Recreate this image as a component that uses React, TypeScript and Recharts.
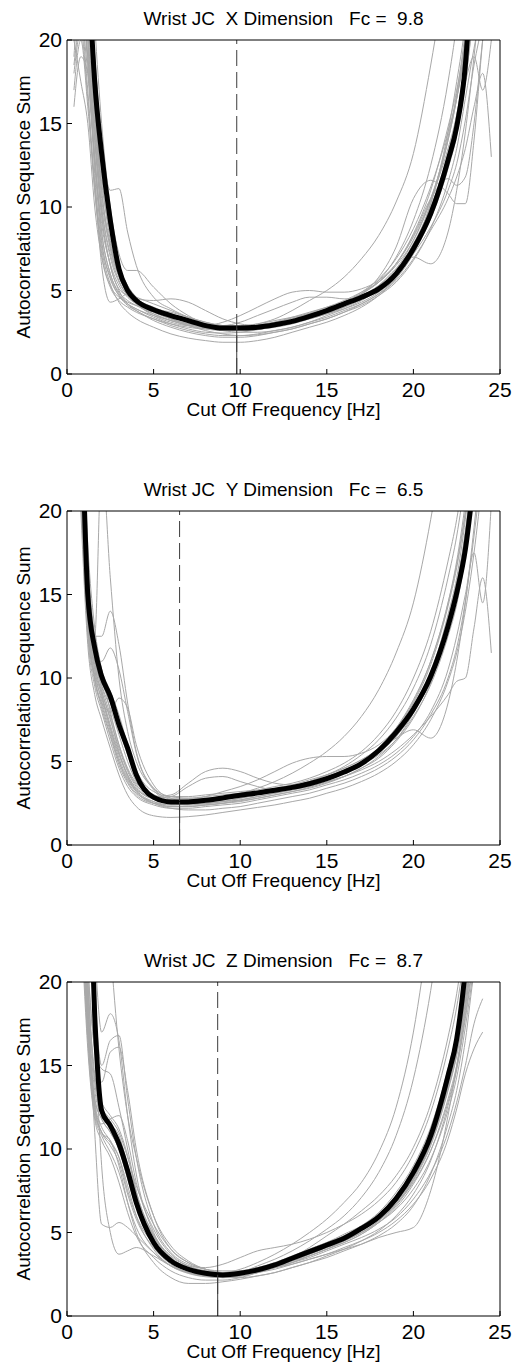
import { LineChart, Line, XAxis, YAxis, ReferenceLine } from "recharts";

const FONT = "'Liberation Sans', Arial, Helvetica, sans-serif";

// shared frequency grid [Hz]
const freqs = [0.4, 0.8, 1.2, 1.6, 2, 2.5, 3, 3.5, 4, 5, 6, 7, 8, 9, 10, 11, 12, 13, 14, 15, 16, 17, 18, 19, 20, 21, 22, 22.5, 23, 23.5, 24, 24.5];
const xTicks = [0, 5, 10, 15, 20, 25];
const yTicks = [0, 5, 10, 15, 20];

// non-breaking spaces keep the wide gaps of the original titles
const titles = [
  "Wrist JC\u00a0\u00a0X Dimension\u00a0\u00a0\u00a0Fc =\u00a0\u00a09.8",
  "Wrist JC\u00a0\u00a0Y Dimension\u00a0\u00a0\u00a0Fc =\u00a0\u00a06.5",
  "Wrist JC\u00a0\u00a0Z Dimension\u00a0\u00a0\u00a0Fc =\u00a0\u00a08.7",
];
const cutoffs = [9.8, 6.5, 8.7];
const cutoffLevels = [2.75, 2.58, 2.47];

// X dimension
const meanX = [null, null, 25, 17.5, 13.2, 9.2, 6.3, 5.0, 4.4, 3.85, 3.5, 3.2, 2.9, 2.75, 2.75, 2.8, 2.95, 3.15, 3.45, 3.8, 4.2, 4.6, 5.1, 6.0, 7.5, 9.6, 12.8, 14.8, 18.5, 27, null, null];
const graysX = [
  [16, 19, 18, 13, 8.5, 6.0, 4.9, 4.4, 4.1, 3.6, 3.2, 2.9, 2.6, 2.4, 2.3, 2.35, 2.5, 2.7, 3.0, 3.3, 3.7, 4.2, 4.8, 5.8, 7.5, 10.2, 14.5, 17.5, 21, 26, null, null],
  [18.5, 21, 17, 11, 7.2, 5.3, 4.6, 4.3, 4.1, 3.9, 3.7, 3.4, 3.1, 2.9, 2.8, 2.9, 3.1, 3.4, 3.7, 4.0, 4.3, 4.7, 5.3, 6.3, 8.0, 10.5, 14.0, 16.5, 19.5, 23, null, null],
  [null, 30, 24, 19, 14, 11.0, 11.1, 8.5, 6.5, 4.6, 3.9, 3.4, 3.0, 2.8, 2.7, 2.75, 2.9, 3.1, 3.4, 3.7, 4.1, 4.8, 5.8, 7.6, 10.5, 11.6, 10.8, 10.2, 10.2, 14, 20, 25],
  [null, 28, 20, 12, 6.5, 4.3, 4.5, 4.8, 4.6, 4.2, 3.8, 3.4, 3.1, 2.9, 2.9, 3.0, 3.2, 3.4, 3.6, 3.9, 4.3, 4.8, 5.6, 7.0, 9.2, 12.5, 17.5, 21, 26, null, null, null],
  [null, null, 29, 21, 15, 10, 7.2, 6.2, 6.2, 5.2, 4.2, 3.5, 3.0, 2.7, 2.6, 2.7, 2.9, 3.2, 3.5, 3.9, 4.3, 4.8, 5.5, 6.6, 8.4, 11.0, 14.8, 17.0, 20, 24, null, null],
  [19, 23, 19, 14, 9.5, 6.5, 5.1, 4.7, 4.5, 4.4, 4.5, 4.3, 3.8, 3.3, 3.0, 2.9, 3.0, 3.2, 3.5, 3.9, 4.3, 4.9, 5.7, 6.9, 8.7, 11.2, 14.5, 16.5, 19.5, 24, null, null],
  [17, 20, 16, 11, 7.5, 5.4, 4.3, 3.7, 3.3, 2.8, 2.4, 2.15, 2.0, 1.9, 1.9, 2.0, 2.2, 2.5, 2.8, 3.1, 3.5, 4.0, 4.7, 5.7, 7.2, 9.4, 12.5, 14.5, 17.5, 22, null, null],
  [null, 26, 21, 15, 10, 7.0, 5.5, 4.7, 4.2, 3.5, 3.1, 2.9, 2.9, 3.1, 3.5, 4.0, 4.5, 4.9, 5.0, 4.9, 4.9, 5.1, 5.6, 6.6, 8.2, 10.5, 13.5, 15.5, 18.5, 22, null, null],
  [null, 27, 22, 16, 11, 7.5, 5.8, 4.9, 4.4, 3.8, 3.3, 3.0, 2.9, 2.9, 3.1, 3.5, 3.9, 4.3, 4.6, 4.6, 4.5, 4.6, 5.0, 5.9, 7.6, 10.2, 14.0, 16.5, 20, 25, null, null],
  [null, 25, 20, 14, 9.5, 6.5, 5.0, 4.2, 3.8, 3.3, 3.0, 2.8, 2.7, 2.7, 2.8, 3.0, 3.3, 3.8, 4.4, 5.0, 5.8, 6.9, 8.3, 10.3, 13.2, 18.5, 25, null, null, null, null, null],
  [null, 24, 19, 13, 8.5, 6.0, 4.8, 4.2, 3.9, 3.5, 3.2, 2.9, 2.7, 2.6, 2.6, 2.7, 2.9, 3.1, 3.4, 3.7, 4.1, 4.6, 5.3, 6.3, 7.0, 6.6, 8.5, 11, 14.5, 19, 24, null],
  [null, 29, 23, 16, 11, 7.8, 6.0, 5.0, 4.5, 3.9, 3.4, 3.1, 2.9, 2.8, 2.8, 2.9, 3.1, 3.3, 3.6, 3.9, 4.3, 4.8, 5.5, 6.6, 8.3, 10.5, 11.7, 11.3, 11.8, 15, 20, 24],
  [null, 30, 25, 18, 12, 8.0, 5.9, 4.8, 4.3, 3.7, 3.3, 3.0, 2.8, 2.6, 2.5, 2.5, 2.6, 2.8, 3.1, 3.4, 3.8, 4.2, 4.8, 5.6, 6.9, 8.6, 10.5, 11.8, 13.5, 16, 18, 13],
  [20, 17.5, 15, 10, 7.0, 5.2, 4.4, 4.0, 3.7, 3.3, 2.9, 2.6, 2.4, 2.3, 2.3, 2.4, 2.6, 2.8, 3.1, 3.5, 3.9, 4.4, 5.1, 6.2, 7.8, 10.0, 13.0, 15.0, 17.5, 19, 17, 20],
  [null, 22, 18, 12.5, 8.0, 5.8, 4.7, 4.1, 3.8, 3.2, 2.8, 2.5, 2.3, 2.2, 2.2, 2.3, 2.5, 2.7, 3.0, 3.3, 3.7, 4.1, 4.7, 5.5, 6.8, 8.7, 11.5, 13.5, 16.5, 19.5, 22, null],
  [null, 27, 22, 16, 11.5, 8.5, 6.5, 5.3, 4.6, 3.8, 3.3, 3.0, 2.8, 2.7, 2.7, 2.8, 2.9, 3.1, 3.3, 3.6, 3.9, 4.3, 4.9, 5.8, 7.3, 9.4, 12.6, 15.0, 18.2, 22.5, null, null],
  [null, 26, 20.5, 14.5, 10, 7.2, 5.6, 4.7, 4.2, 3.6, 3.2, 2.95, 2.75, 2.65, 2.65, 2.75, 2.9, 3.1, 3.35, 3.65, 4.0, 4.45, 5.0, 5.9, 7.3, 9.3, 12.3, 14.3, 17.5, 22, null, null],
  [null, 24, 18.5, 13, 9, 6.6, 5.3, 4.6, 4.2, 3.7, 3.4, 3.15, 2.95, 2.85, 2.85, 2.95, 3.1, 3.35, 3.65, 4.0, 4.4, 4.9, 5.5, 6.5, 8.0, 10.4, 14.2, 16.8, 20.5, 25, null, null],
  [null, 28, 22, 15.5, 10.5, 7.6, 5.9, 5.0, 4.5, 4.0, 3.6, 3.3, 3.0, 2.8, 2.7, 2.7, 2.8, 3.0, 3.3, 3.6, 4.0, 4.5, 5.1, 6.0, 7.2, 8.8, 11.0, 12.6, 15.2, 18.5, 21, null],
  [18, 20.5, 16.5, 11.5, 7.8, 5.7, 4.7, 4.2, 3.9, 3.4, 3.0, 2.7, 2.5, 2.45, 2.5, 2.65, 2.85, 3.1, 3.4, 3.75, 4.15, 4.6, 5.2, 6.1, 7.6, 9.8, 13.2, 15.5, 18.8, 23, null, null],
];

// Y dimension
const meanY = [null, 28, 15, 11.8, 10.1, 8.9, 7.2, 5.8, 4.2, 2.85, 2.58, 2.58, 2.68, 2.82, 2.98, 3.12, 3.28, 3.45, 3.67, 3.97, 4.37, 4.87, 5.66, 6.75, 8.14, 10.1, 13.1, 15.1, 17.7, 22, null, null];
const graysY = [
  [null, 26, 16, 12.5, 23, 16, 10, 6.8, 5.0, 3.4, 2.9, 2.8, 2.9, 3.0, 3.1, 3.2, 3.3, 3.5, 3.7, 4.0, 4.4, 4.9, 5.6, 6.7, 8.1, 10.2, 13.3, 15.5, 18.6, 23, null, null],
  [null, 27, 17, 12.5, 12.5, 14, 12, 8.5, 5.6, 3.4, 2.7, 2.5, 2.5, 2.6, 2.8, 3.0, 3.2, 3.4, 3.7, 4.0, 4.4, 5.0, 5.8, 7.0, 8.7, 11.0, 14.5, 16.8, 20, 24, null, null],
  [null, 24, 14, 11.0, 11.0, 11.8, 10.5, 8.0, 5.5, 3.3, 2.6, 2.4, 2.4, 2.5, 2.6, 2.8, 3.0, 3.2, 3.4, 3.7, 4.1, 4.6, 5.3, 6.3, 7.9, 10.2, 13.8, 16.0, 19.5, 24, null, null],
  [null, 22, 13, 9.8, 8.5, 8.0, 8.8, 8.2, 6.0, 3.6, 2.8, 2.6, 2.6, 2.7, 2.9, 3.1, 3.3, 3.5, 3.8, 4.1, 4.5, 5.0, 5.7, 6.7, 8.2, 10.4, 13.6, 15.7, 18.6, 22.5, null, null],
  [null, 20, 12, 9.0, 7.5, 5.8, 4.2, 3.0, 2.3, 1.75, 1.65, 1.7, 1.8, 1.95, 2.1, 2.25, 2.4, 2.6, 2.8, 3.1, 3.4, 3.8, 4.3, 5.0, 6.0, 7.5, 9.8, 11.5, 14, 17.5, 22, null],
  [null, 25, 15, 11, 9.0, 7.0, 5.2, 4.0, 3.3, 2.9, 3.0, 3.7, 4.4, 4.6, 4.4, 4.0, 3.7, 3.6, 3.7, 3.9, 4.3, 4.8, 5.5, 6.5, 8.0, 10.0, 13.0, 15.0, 17.8, 21.5, null, null],
  [null, 26, 16, 11.5, 9.3, 7.5, 5.8, 4.4, 3.5, 2.8, 2.6, 2.7, 2.9, 3.2, 3.5, 3.9, 4.4, 4.9, 5.2, 5.3, 5.3, 5.5, 6.0, 7.0, 8.6, 11.0, 14.5, 17.0, 20.5, 25, null, null],
  [null, 23, 13.5, 10, 8.2, 6.5, 4.8, 3.7, 3.0, 2.5, 2.4, 2.5, 2.7, 2.9, 3.1, 3.4, 3.8, 4.3, 4.9, 5.6, 6.5, 7.7, 9.3, 11.5, 14.5, 19.5, 26, null, null, null, null, null],
  [null, 28, 18, 13, 10.5, 8.0, 6.0, 4.5, 3.6, 2.9, 2.6, 2.5, 2.5, 2.6, 2.7, 2.9, 3.1, 3.3, 3.5, 3.8, 4.1, 4.5, 5.0, 5.7, 6.6, 7.7, 9.0, 9.8, 10.0, 13.0, 16.0, 11.5],
  [null, 24, 14, 10.5, 8.6, 6.8, 5.0, 3.8, 3.1, 2.6, 2.4, 2.4, 2.5, 2.6, 2.8, 3.0, 3.2, 3.5, 3.8, 4.2, 4.6, 5.1, 5.7, 6.4, 6.9, 6.4, 8.5, 11.0, 14.5, 19, 24, null],
  [null, 21, 12.5, 9.5, 8.0, 6.2, 4.6, 3.5, 2.9, 2.4, 2.2, 2.2, 2.3, 2.4, 2.5, 2.7, 2.9, 3.1, 3.3, 3.6, 3.9, 4.3, 4.8, 5.5, 6.5, 8.0, 10.5, 12.5, 15.0, 17.5, 14.5, 20.5],
  [null, 26, 15.5, 11.2, 9.5, 7.8, 6.0, 4.6, 3.7, 3.0, 2.8, 2.8, 2.8, 2.9, 3.0, 3.1, 3.3, 3.5, 3.8, 4.2, 4.7, 5.4, 6.3, 7.6, 9.4, 12.0, 16.0, 18.5, 22, null, null, null],
  [null, 22, 13, 10, 8.4, 6.6, 5.0, 3.9, 3.2, 2.5, 2.2, 2.1, 2.1, 2.2, 2.3, 2.5, 2.7, 2.9, 3.1, 3.4, 3.7, 4.1, 4.6, 5.3, 6.3, 7.8, 10.0, 11.8, 14.6, 18.5, 23, null],
  [null, 25, 14.5, 10.8, 9.2, 7.6, 5.6, 4.2, 3.3, 2.6, 2.3, 2.3, 2.4, 2.5, 2.7, 2.9, 3.1, 3.3, 3.6, 3.9, 4.3, 4.9, 5.7, 6.9, 8.5, 10.8, 14.3, 16.6, 19.8, 24, null, null],
  [null, 23, 13.5, 10.2, 8.8, 7.0, 5.4, 4.2, 3.4, 2.8, 2.9, 3.5, 4.0, 4.1, 3.8, 3.5, 3.3, 3.4, 3.6, 3.9, 4.3, 4.8, 5.4, 6.3, 7.7, 9.6, 12.5, 14.4, 17.3, 21, null, null],
  [null, 24, 14.8, 11.3, 9.6, 8.2, 6.6, 5.0, 3.8, 2.9, 2.6, 2.6, 2.7, 2.8, 3.0, 3.2, 3.4, 3.6, 3.9, 4.2, 4.6, 5.1, 5.8, 6.8, 8.2, 10.3, 13.5, 15.6, 18.5, 22.5, null, null],
  [null, 25, 15.2, 11.5, 9.8, 8.5, 7.0, 5.4, 4.1, 3.0, 2.7, 2.7, 2.75, 2.85, 3.0, 3.15, 3.3, 3.5, 3.7, 4.0, 4.4, 4.9, 5.5, 6.5, 7.9, 9.9, 12.9, 15.0, 18.0, 22, null, null],
  [null, 21, 13.5, 10.5, 9.0, 7.2, 5.5, 4.1, 3.2, 2.5, 2.3, 2.3, 2.4, 2.5, 2.65, 2.8, 3.0, 3.2, 3.45, 3.75, 4.1, 4.6, 5.2, 6.2, 7.6, 9.7, 13.0, 15.3, 18.8, 23, null, null],
  [null, 27, 17, 12.5, 10.5, 9.2, 7.8, 6.0, 4.5, 3.2, 2.9, 2.9, 3.0, 3.1, 3.2, 3.3, 3.5, 3.7, 4.0, 4.4, 4.9, 5.6, 6.6, 8.0, 10.0, 12.8, 17.0, 19.5, 23, null, null, null],
];

// Z dimension
const meanZ = [null, null, 30, 18, 12.3, 11.4, 10.3, 8.7, 6.8, 4.4, 3.3, 2.8, 2.56, 2.46, 2.56, 2.76, 3.06, 3.46, 3.85, 4.25, 4.65, 5.24, 5.94, 7.03, 8.6, 10.8, 14.4, 16.6, 20.8, 28, null, null];
const graysZ = [
  [null, null, 30, 22, 17, 18.1, 16.5, 12, 8.5, 5.0, 3.6, 3.0, 2.7, 2.6, 2.7, 2.9, 3.2, 3.6, 4.0, 4.4, 4.8, 5.3, 6.0, 7.0, 8.5, 10.6, 14.0, 16.3, 20, 25, null, null],
  [null, null, 27, 19, 15, 16.5, 16.8, 13, 9.5, 5.5, 3.8, 3.1, 2.8, 2.7, 2.7, 2.9, 3.1, 3.4, 3.8, 4.2, 4.6, 5.1, 5.8, 6.8, 8.3, 10.4, 13.6, 15.8, 19.0, 23.5, null, null],
  [null, 29, 21, 16, 14, 15.8, 16.1, 13.5, 10.0, 6.0, 4.0, 3.2, 2.8, 2.6, 2.6, 2.8, 3.0, 3.3, 3.6, 4.0, 4.4, 4.9, 5.6, 6.5, 7.9, 9.9, 13.0, 15.0, 18.0, 22, null, null],
  [null, null, null, 35, 28, 22, 16, 12, 9.5, 6.0, 4.2, 3.3, 2.8, 2.6, 2.6, 2.8, 3.1, 3.5, 3.9, 4.3, 4.8, 5.4, 6.2, 7.4, 9.0, 11.3, 14.8, 17.0, 20.5, 25, null, null],
  [null, 30, 19, 11, 5.5, 5.3, 5.6, 5.3, 4.8, 3.8, 3.0, 2.6, 2.4, 2.3, 2.4, 2.6, 2.9, 3.2, 3.6, 4.0, 4.5, 5.0, 5.7, 6.7, 8.2, 10.4, 13.8, 16.0, 19.5, 24, null, null],
  [null, null, 28, 17, 9, 5.0, 3.7, 3.9, 4.1, 3.6, 3.0, 2.6, 2.4, 2.3, 2.3, 2.4, 2.6, 2.9, 3.2, 3.6, 4.0, 4.5, 5.1, 6.0, 7.3, 9.3, 12.6, 14.8, 18.3, 23, null, null],
  [null, 26, 17, 12.5, 11, 10.5, 9.0, 6.8, 5.0, 3.2, 2.3, 1.95, 1.95, 2.05, 2.2, 2.4, 2.6, 2.9, 3.2, 3.5, 3.9, 4.3, 4.8, 5.5, 6.6, 8.5, 11.5, 13.5, 16.5, 20.5, 22, null],
  [null, 28, 18, 13, 11.8, 11, 10, 8.2, 6.5, 4.5, 3.4, 3.0, 2.9, 3.1, 3.5, 3.9, 4.1, 4.3, 4.6, 5.0, 5.5, 6.1, 6.9, 8.0, 9.7, 12.2, 16.0, 18.5, 22, null, null, null],
  [null, 27, 18, 12.5, 11.3, 10.5, 9.5, 7.5, 6.0, 4.3, 3.3, 2.8, 2.6, 2.6, 2.8, 3.2, 3.7, 4.3, 5.0, 5.8, 6.8, 8.0, 9.8, 12.5, 17.0, 24, null, null, null, null, null, null],
  [null, 26, 17.5, 12.5, 11, 10.2, 9.2, 7.3, 5.8, 4.1, 3.1, 2.6, 2.4, 2.4, 2.6, 3.0, 3.4, 3.9, 4.5, 5.2, 6.0, 7.1, 8.6, 10.8, 14.2, 19.5, 27, null, null, null, null, null],
  [null, 28, 19, 13.5, 12, 11.3, 10.3, 8.5, 6.6, 4.5, 3.3, 2.8, 2.55, 2.45, 2.5, 2.7, 2.9, 3.1, 3.4, 3.7, 4.0, 4.3, 4.7, 5.0, 5.3, 7.5, 12.0, 15.0, 18.5, 22, null, null],
  [null, 25, 16.5, 12.0, 10.8, 9.8, 8.6, 6.8, 5.3, 3.8, 3.0, 2.6, 2.4, 2.35, 2.4, 2.6, 2.8, 3.1, 3.4, 3.7, 4.1, 4.5, 5.0, 5.7, 6.7, 8.2, 10.6, 12.4, 14.5, 16.0, 17.0, null],
  [null, 29, 20, 14, 12.2, 11.5, 10.8, 9.0, 7.0, 4.8, 3.5, 2.9, 2.6, 2.5, 2.6, 2.8, 3.0, 3.3, 3.7, 4.1, 4.5, 5.0, 5.6, 6.4, 7.6, 9.4, 12.3, 14.3, 17.3, 21, null, null],
  [null, 30, 21, 16, 14.8, 14.5, 12.5, 10, 7.5, 4.8, 3.4, 2.8, 2.5, 2.4, 2.5, 2.7, 2.9, 3.2, 3.6, 4.0, 4.4, 4.9, 5.6, 6.6, 8.1, 10.2, 13.5, 15.6, 18.8, 23, null, null],
  [null, 30, 20, 14.5, 12.5, 11.8, 11.0, 9.5, 7.8, 5.5, 4.0, 3.2, 2.8, 2.6, 2.6, 2.7, 2.9, 3.2, 3.5, 3.9, 4.3, 4.7, 5.2, 5.9, 7.0, 8.6, 11.0, 12.8, 15.0, 17.5, 19.0, null],
  [null, 24, 16, 11.8, 10.5, 9.5, 8.0, 6.2, 4.8, 3.5, 2.7, 2.3, 2.15, 2.15, 2.3, 2.6, 3.0, 3.5, 4.1, 4.8, 5.5, 6.3, 7.2, 8.4, 10.1, 12.7, 16.7, 19.3, 23, null, null, null],
  [null, 27, 18.5, 13, 11.8, 11.0, 10.0, 8.3, 6.5, 4.3, 3.2, 2.7, 2.5, 2.4, 2.5, 2.7, 3.0, 3.4, 3.8, 4.2, 4.6, 5.2, 5.9, 7.0, 8.6, 10.9, 14.5, 16.8, 20.5, 25, null, null],
  [null, 25, 17, 12.2, 11.0, 10.4, 9.5, 7.8, 6.0, 4.0, 3.0, 2.55, 2.35, 2.3, 2.4, 2.6, 2.9, 3.3, 3.7, 4.1, 4.5, 5.0, 5.7, 6.7, 8.2, 10.3, 13.6, 15.7, 19.2, 23.5, null, null],
  [null, 29, 20, 14.2, 12.8, 12.0, 11.2, 9.6, 7.4, 4.9, 3.5, 2.9, 2.65, 2.55, 2.6, 2.8, 3.1, 3.5, 3.9, 4.3, 4.7, 5.2, 5.8, 6.7, 8.0, 9.9, 12.8, 14.8, 17.8, 21.5, null, null],
  [null, 26, 17.5, 12.8, 11.5, 11.8, 12.0, 10.5, 8.0, 5.2, 3.7, 3.0, 2.7, 2.6, 2.65, 2.85, 3.15, 3.55, 4.0, 4.4, 4.9, 5.4, 6.1, 7.1, 8.7, 11.0, 14.6, 17.0, 20.8, 25, null, null],
];

const means = [meanX, meanY, meanZ];
const grayGroups = [graysX, graysY, graysZ];
const chartTops = [0, 471, 942];

type Vals = (number | null)[];

function Panel({ title, mean, grays, fc, fcLevel }: { title: string; mean: Vals; grays: Vals[]; fc: number; fcLevel: number }) {
  const rows = freqs.map((f, i) => {
    const row: Record<string, number | null> = { f, mean: mean[i] };
    grays.forEach((g, j) => {
      row["g" + j] = g[i];
    });
    return row;
  });

  const tickStyle = { fontSize: 21, fill: "#000", fontFamily: FONT };

  return (
    <LineChart width={515} height={430} data={rows} margin={{ top: 39, right: 14, bottom: 14, left: 7 }}>
      <XAxis
        dataKey="f"
        type="number"
        domain={[0, 25]}
        ticks={xTicks}
        interval={0}
        allowDataOverflow
        height={42}
        stroke="#000"
        tickSize={-5}
        tickMargin={13}
        tick={tickStyle}
        label={{ value: "Cut Off Frequency [Hz]", position: "insideBottom", offset: 0, fontSize: 19, fill: "#000", fontFamily: FONT }}
      />
      <XAxis
        xAxisId="top"
        orientation="top"
        dataKey="f"
        type="number"
        domain={[0, 25]}
        ticks={xTicks}
        interval={0}
        allowDataOverflow
        height={1}
        stroke="#000"
        tickSize={-5}
        tick={false}
        label={{ value: title, position: "top", offset: 14, fontSize: 19, fill: "#000", fontFamily: FONT }}
      />
      <YAxis
        type="number"
        domain={[0, 20]}
        ticks={yTicks}
        interval={0}
        allowDataOverflow
        width={60}
        stroke="#000"
        tickSize={-5}
        tickMargin={10}
        tick={tickStyle}
        label={{
          value: "Autocorrelation Sequence Sum",
          angle: -90,
          position: "insideLeft",
          offset: 16,
          fontSize: 19,
          fill: "#000",
          fontFamily: FONT,
          style: { textAnchor: "middle" },
        }}
      />
      <YAxis
        yAxisId="right"
        orientation="right"
        type="number"
        domain={[0, 20]}
        ticks={yTicks}
        interval={0}
        allowDataOverflow
        width={1}
        stroke="#000"
        tickSize={-5}
        tick={false}
      />
      {grays.map((_, j) => (
        <Line
          key={j}
          dataKey={"g" + j}
          type="monotone"
          stroke="#a8a8a8"
          strokeWidth={1}
          dot={false}
          activeDot={false}
          isAnimationActive={false}
        />
      ))}
      <Line dataKey="mean" type="monotone" stroke="#000" strokeWidth={5} dot={false} activeDot={false} isAnimationActive={false} />
      <ReferenceLine x={fc} stroke="#3c3c3c" strokeWidth={1} strokeDasharray="16 6" />
      <ReferenceLine segment={[{ x: fc, y: 0 }, { x: fc, y: fcLevel }]} stroke="#3c3c3c" strokeWidth={1} />
    </LineChart>
  );
}

export default function App() {
  return (
    <div style={{ position: "absolute", left: 0, top: 0, width: 515, height: 1372, background: "#fff", overflow: "hidden" }}>
      {titles.map((t, i) => (
        <div key={i} style={{ position: "absolute", left: 0, top: chartTops[i] }}>
          <Panel title={t} mean={means[i]} grays={grayGroups[i]} fc={cutoffs[i]} fcLevel={cutoffLevels[i]} />
        </div>
      ))}
    </div>
  );
}
